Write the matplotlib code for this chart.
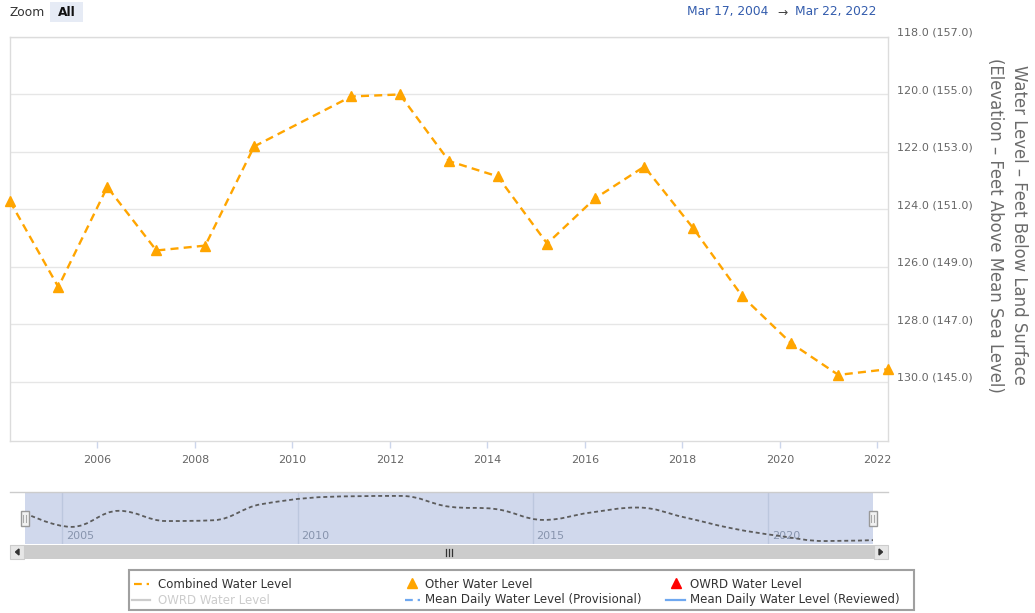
import matplotlib
matplotlib.use('Agg')
import matplotlib.pyplot as plt
import matplotlib.dates as mdates
import matplotlib.transforms as mtransforms
from matplotlib.path import Path
from matplotlib.patches import PathPatch, Rectangle, Polygon
from matplotlib.lines import Line2D
import pandas as pd

plt.rcParams['font.family'] = ['DejaVu Sans']

# 数据：测量日期与水位（地表以下英尺）
sample_dates = ['2004-03-17', '2005-03-14', '2006-03-16', '2007-03-19', '2008-03-19',
                '2009-03-20', '2011-03-18', '2012-03-16', '2013-03-20', '2014-03-19',
                '2015-03-25', '2016-03-17', '2017-03-22', '2018-03-21', '2019-03-27',
                '2020-03-24', '2021-03-15', '2022-03-22']
water_levels = [123.72, 126.70, 123.22, 125.43, 125.26, 121.81, 120.07, 120.00, 122.32,
                122.85, 125.19, 123.62, 122.51, 124.64, 127.03, 128.65, 129.76, 129.56]
range_start = '2004-03-17'
range_end = '2022-03-22'
range_text = ['Mar 17, 2004', 'Mar 22, 2022']
depth_ticks = [118, 120, 122, 124, 126, 128, 130]
land_surface = 275.0
year_ticks = [2006, 2008, 2010, 2012, 2014, 2016, 2018, 2020, 2022]
nav_years = [2005, 2010, 2015, 2020]
legend_labels = ['Combined Water Level', 'Other Water Level', 'OWRD Water Level',
                 'OWRD Water Level', 'Mean Daily Water Level (Provisional)',
                 'Mean Daily Water Level (Reviewed)']

W, H = 1035, 613
ORANGE = '#FFA500'
BLUE = '#6fa8f0'

fig = plt.figure(figsize=(W / 100, H / 100), dpi=100)
pxt = mtransforms.Affine2D().scale(1 / W, -1 / H).translate(0, 1) + fig.transFigure


def fx(x):
    return x / W


def fy(y):
    return 1 - y / H


dates = mdates.date2num(pd.to_datetime(sample_dates))
x0 = mdates.date2num(pd.Timestamp(range_start))
x1 = mdates.date2num(pd.Timestamp(range_end))

# 主图
ax = fig.add_axes([fx(10), fy(441), 878 / W, 404 / H])
ax.plot(dates, water_levels, color=ORANGE, lw=1.7, ls=(0, (3.4, 2.2)),
        marker='^', ms=7.5, mec=ORANGE, mfc=ORANGE, clip_on=False, zorder=3)
ax.set_xlim(x0, x1)
ax.set_ylim(132.06, 118)
for s in ax.spines.values():
    s.set_color('#dcdcdc')
    s.set_linewidth(1)
ax.set_yticks(depth_ticks)
ax.set_yticklabels([f'{d:.1f} ({land_surface - d:.1f})' for d in depth_ticks])
ax.yaxis.tick_right()
ax.tick_params(axis='y', length=0, pad=6.5, labelsize=8, labelcolor='#666666')
ax.grid(axis='y', color='#e6e6e6', lw=1)
ax.set_axisbelow(True)
ax.set_xticks(mdates.date2num([pd.Timestamp(f'{y}-01-01') for y in year_ticks]))
ax.set_xticklabels([str(y) for y in year_ticks])
ax.tick_params(axis='x', length=5, width=1, color='#ccd6eb', pad=5,
               labelsize=8, labelcolor='#666666')
shift = mtransforms.ScaledTranslation(0, 5 / 100, fig.dpi_scale_trans)
for lbl in ax.get_yticklabels():
    lbl.set_transform(lbl.get_transform() + shift)

fig.text(fx(1007), fy(225), 'Water Level – Feet Below Land Surface\n'
         '(Elevation – Feet Above Mean Sea Level)', rotation=270,
         ha='center', va='center', fontsize=11.9, color='#6b6b6b', linespacing=1.4)

# 顶部：缩放按钮与日期范围
fig.text(fx(10), fy(12), 'Zoom', fontsize=8.8, color='#333333', va='center')
fig.add_artist(Rectangle((50, 2), 33, 20, transform=pxt, facecolor='#e6ebf5',
                         edgecolor='none'))
fig.text(fx(66.5), fy(12), 'All', fontsize=8.8, color='#111111', va='center',
         ha='center', fontweight='bold')
fig.text(fx(768), fy(12), range_text[0], fontsize=8.8, color='#335cad', va='center', ha='right')
fig.text(fx(782), fy(12), '→', fontsize=8.8, color='#444444', va='center', ha='center')
fig.text(fx(795), fy(12), range_text[1], fontsize=8.8, color='#335cad', va='center', ha='left')


# 导航器（平滑曲线）
def spline_path(xs, ys, smoothing=1.5):
    denom = smoothing + 1
    n = len(xs)
    verts = [(xs[0], ys[0])]
    codes = [Path.MOVETO]
    right_prev = (xs[0], ys[0])
    for i in range(1, n):
        px, py = xs[i], ys[i]
        if i < n - 1:
            lx, ly = xs[i - 1], ys[i - 1]
            nx, ny = xs[i + 1], ys[i + 1]
            lcx = (smoothing * px + lx) / denom
            lcy = (smoothing * py + ly) / denom
            rcx = (smoothing * px + nx) / denom
            rcy = (smoothing * py + ny) / denom
            if rcx != lcx:
                corr = ((rcy - lcy) * (rcx - px)) / (rcx - lcx) + py - rcy
                lcy += corr
                rcy += corr
            if lcy > ly and lcy > py:
                lcy = max(ly, py)
                rcy = 2 * py - lcy
            elif lcy < ly and lcy < py:
                lcy = min(ly, py)
                rcy = 2 * py - lcy
            if rcy > ny and rcy > py:
                rcy = max(ny, py)
                lcy = 2 * py - rcy
            elif rcy < ny and rcy < py:
                rcy = min(ny, py)
                lcy = 2 * py - rcy
            left, right = (lcx, lcy), (rcx, rcy)
        else:
            left, right = (px, py), None
        verts += [right_prev, left, (px, py)]
        codes += [Path.CURVE4] * 3
        right_prev = right
    return Path(verts, codes)


nav = fig.add_axes([fx(25), fy(544), 848 / W, 52 / H])
nav.set_facecolor('#d0d8ec')
nav.set_xlim(x0, x1)
nav.set_ylim(130.4, 119.15)
for s in nav.spines.values():
    s.set_visible(False)
nav.set_xticks([])
nav.set_yticks([])
for y in nav_years:
    d = mdates.date2num(pd.Timestamp(f'{y}-01-01'))
    nav.axvline(d, color='#bcc7de', lw=1, zorder=1)
    nav.annotate(str(y), xy=(d, 0), xycoords=nav.get_xaxis_transform(),
                 xytext=(2.5, 2.5), textcoords='offset points', ha='left', va='bottom',
                 fontsize=8, color='#8794ad')
nav.add_patch(PathPatch(spline_path(list(dates), water_levels), facecolor='none',
                        edgecolor='#5c5c5c', lw=1.3, ls=(0, (2.2, 1.6)), zorder=3))
fig.add_artist(Line2D([10, 888], [492, 492], transform=pxt, color='#cccccc', lw=1))

for cx in (24.5, 872.5):
    fig.add_artist(Rectangle((cx - 4, 511), 8, 15, transform=pxt, facecolor='#f2f2f2',
                             edgecolor='#999999', lw=1, zorder=5))
    for dx in (-1.2, 1.2):
        fig.add_artist(Line2D([cx + dx, cx + dx], [515, 522], transform=pxt,
                              color='#aaaaaa', lw=0.8, zorder=6))

# 滚动条
fig.add_artist(Rectangle((10, 545), 878, 14, transform=pxt, facecolor='#cccccc',
                         edgecolor='none'))
fig.add_artist(Rectangle((10, 545), 14, 14, transform=pxt, facecolor='#e6e6e6',
                         edgecolor='#cccccc', lw=0.8))
fig.add_artist(Rectangle((874, 545), 14, 14, transform=pxt, facecolor='#e6e6e6',
                         edgecolor='#cccccc', lw=0.8))
fig.add_artist(Polygon([(19, 549), (19, 555), (15.5, 552)], transform=pxt, color='#333333'))
fig.add_artist(Polygon([(879, 549), (879, 555), (882.5, 552)], transform=pxt, color='#333333'))
for gx in (446, 449, 452):
    fig.add_artist(Line2D([gx, gx], [548.5, 555.5], transform=pxt, color='#333333', lw=0.9))

# 图例
fig.add_artist(Rectangle((129, 570), 785, 40, transform=pxt, facecolor='white',
                         edgecolor='#a0a0a0', lw=1.5))
rows = [584, 600]
fs = 8.5
fig.add_artist(Line2D([134, 149], [rows[0], rows[0]], transform=pxt, color=ORANGE,
                      lw=1.6, ls=(0, (3.5, 2.2, 1.2, 2.2))))
fig.text(fx(158), fy(rows[0]), legend_labels[0], fontsize=fs, color='#333333', va='center')
fig.add_artist(Line2D([412], [rows[0] - 1], transform=pxt, color=ORANGE, marker='^',
                      ms=7.5, ls='none'))
fig.text(fx(425), fy(rows[0]), legend_labels[1], fontsize=fs, color='#333333', va='center')
fig.add_artist(Line2D([676], [rows[0] - 1], transform=pxt, color='#ff0000', marker='^',
                      ms=7.5, ls='none'))
fig.text(fx(690), fy(rows[0]), legend_labels[2], fontsize=fs, color='#333333', va='center')
fig.add_artist(Line2D([132, 150], [rows[1], rows[1]], transform=pxt, color='#cccccc', lw=1.6))
fig.text(fx(158), fy(rows[1]), legend_labels[3], fontsize=fs, color='#cccccc', va='center')
fig.add_artist(Line2D([405, 420], [rows[1], rows[1]], transform=pxt, color=BLUE,
                      lw=1.6, ls=(0, (3.5, 2.2, 1.2, 2.2))))
fig.text(fx(425), fy(rows[1]), legend_labels[4], fontsize=fs, color='#333333', va='center')
fig.add_artist(Line2D([666, 685], [rows[1], rows[1]], transform=pxt, color=BLUE, lw=1.6))
fig.text(fx(690), fy(rows[1]), legend_labels[5], fontsize=fs, color='#333333', va='center')

fig.savefig('out.png', dpi=100)
